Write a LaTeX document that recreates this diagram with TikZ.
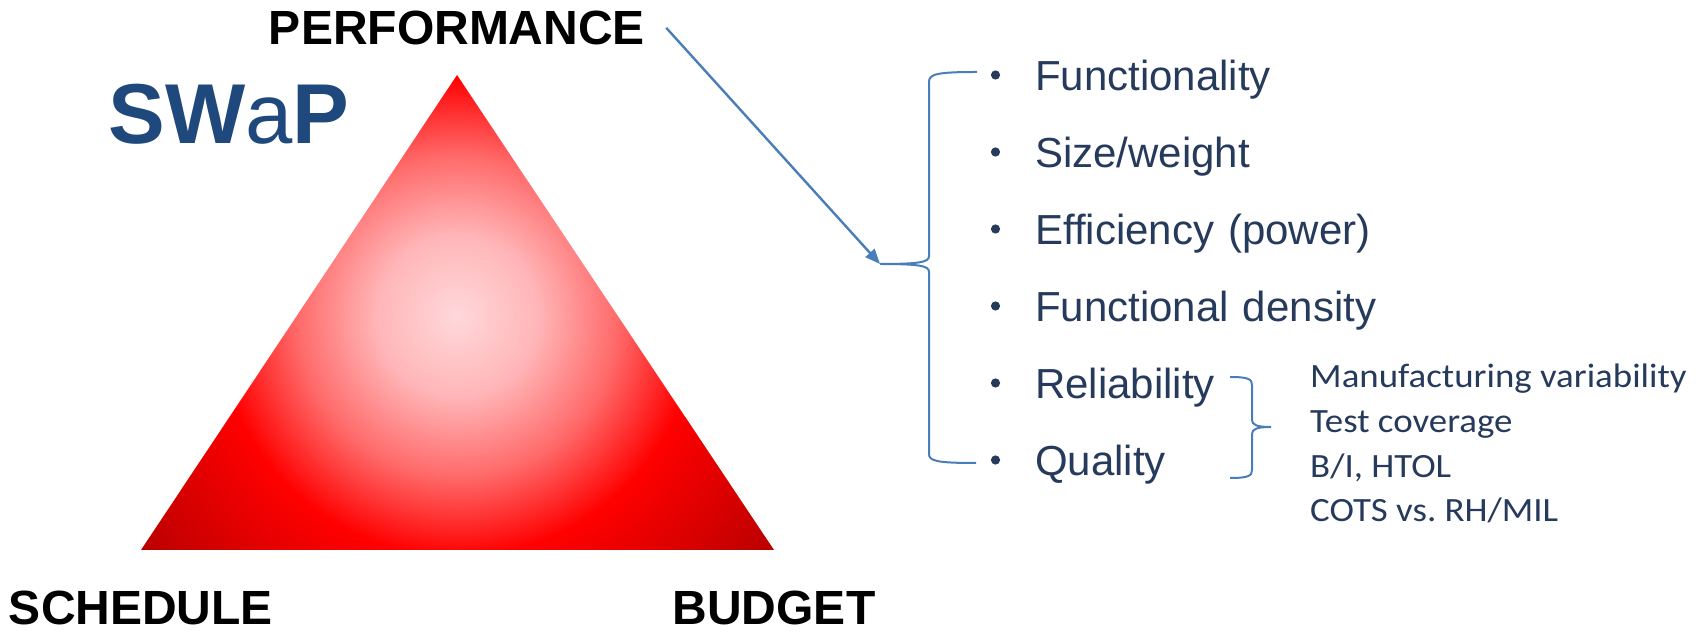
\documentclass[tikz,border=0pt]{standalone}
\usepackage{fontspec}
\setmainfont{Liberation Sans}
\newfontfamily\notefont[FakeStretch=1.085]{Carlito}
\usetikzlibrary{positioning, arrows.meta}
\definecolor{swapblue}{RGB}{31,73,125}
\definecolor{itemtext}{RGB}{38,58,92}
\definecolor{linkblue}{RGB}{74,126,187}
\definecolor{glowcore}{RGB}{255,216,219}
\definecolor{glowmid}{RGB}{255,182,184}
\definecolor{glowedge}{RGB}{255,106,106}
\definecolor{glowdark}{RGB}{182,0,0}
% radial fill of the triangle, 25bp reaches the far corners
\pgfdeclareradialshading{swapglow}{\pgfpoint{0bp}{0bp}}{%
    color(0bp)=(glowcore); color(5bp)=(glowmid); color(10bp)=(glowedge);
    color(15bp)=(red); color(25bp)=(glowdark); color(50bp)=(glowdark)}
\tikzset{
    corner label/.style={inner sep=0pt, font=\fontsize{48}{48}\selectfont\bfseries}, % corners of the triangle
    listitem/.style={inner sep=0pt, text=itemtext, text width=420pt, align=left,
        text height=32pt, text depth=10pt, font=\fontsize{42}{42}\selectfont},
    notes/.style={inner sep=0pt, text=itemtext, align=left,
        font=\notefont\fontsize{34}{44.7}\selectfont},
    bulletdot/.style={fill=itemtext},
    brace/.style={draw=linkblue, line width=2pt},
    pointer/.style={draw=linkblue, line width=2.4pt, -{Triangle[length=15pt, width=12pt]}},
}

\begin{document}
\begin{tikzpicture}[x=1pt, y=1pt, node distance=77pt]
    \useasboundingbox (0,0) rectangle (1708,632);

    % triangle
    \coordinate (top) at (457,557);
    \coordinate (sl) at (141,82);
    \coordinate (sr) at (774,82);
    \begin{scope}
        \clip (top) -- (sl) -- (sr) -- cycle;
        \shade[shading=swapglow] (457,316) circle (400);
    \end{scope}

    \node[corner label, above=30pt of top] (perf) {PERFORMANCE};
    \node[corner label, below=41pt of sl] (sched) {SCHEDULE};
    \node[corner label, below=41pt of sr] (budget) {BUDGET};
    \node[text=swapblue, inner sep=0pt, anchor=base, font=\fontsize{85}{85}\selectfont]
        (swap) at (229,488) {\textbf{SW}a\textbf{P}};

    % list of performance items
    \node[listitem, anchor=base west] (f1) at (1035,541.3) {Functionality};
    \node[listitem] (f2) [below of=f1] {Size/weight};
    \node[listitem] (f3) [below of=f2] {Efficiency (power)};
    \node[listitem] (f4) [below of=f3] {Functional density};
    \node[listitem] (f5) [below of=f4] {Reliability};
    \node[listitem] (f6) [below of=f5] {Quality};
    \foreach \n in {f1,f2,f3,f4,f5,f6}
        \fill[bulletdot] ([xshift=-39.5pt, yshift=15.7pt]\n.base west) circle (4.6);

    % braces
    \draw[brace] (977,560) .. controls (937,560) and (929,558) .. (929,550) -- (929,376)
        .. controls (929,370) and (921,368) .. (880,368) coordinate (bigtip)
        .. controls (921,368) and (929,366) .. (929,360) -- (929,178)
        .. controls (929,171) and (937,169) .. (976,169);
    \draw[brace] (1230,255) .. controls (1248,255) and (1252,253) .. (1252,247) -- (1252,212)
        .. controls (1252,207) and (1257,205) .. (1271,205) coordinate (smalltip)
        .. controls (1257,205) and (1252,203) .. (1252,198) -- (1252,162)
        .. controls (1252,156) and (1248,154) .. (1230,154);

    \draw[pointer] ([xshift=21pt]perf.east) -- (bigtip);

    \node[notes, anchor=north west] (rq) at (1310,268)
        {Manufacturing variability\\ Test coverage\\ B/I, HTOL\\ COTS vs.\ RH/MIL};
\end{tikzpicture}
\end{document}
